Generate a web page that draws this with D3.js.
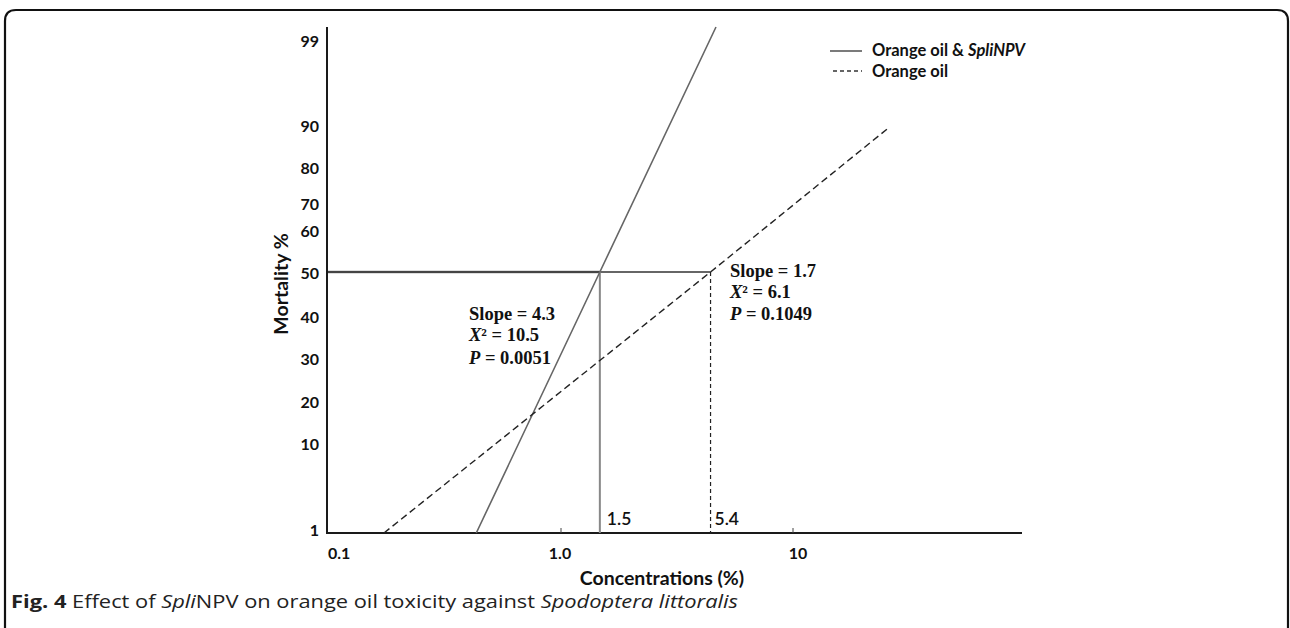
<!DOCTYPE html>
<html>
<head>
<meta charset="utf-8">
<script src="https://cdn.jsdelivr.net/npm/d3@7"></script>
<style>
  html,body{margin:0;padding:0;background:#fff;}
  svg{display:block;}
</style>
</head>
<body>
<svg id="chart" width="1290" height="628"></svg>
<script>
// ---- data ----
const yTickValues = [1, 10, 20, 30, 40, 50, 60, 70, 80, 90, 99];
const yTickLabels = ["1", "10", "20", "30", "40", "50", "60", "70", "80", "90", "99"];
// hand-drawn probit-like mortality axis: value -> position anchors
const yScaleValues = [1, 10, 20, 30, 40, 50, 60, 70, 80, 90, 99, 99.9];
const xTickValues = [0.1, 1, 10];
const xTickLabels = ["0.1", "1.0", "10"];
const seriesNames = ["Orange oil & SpliNPV", "Orange oil"];
// regression lines: concentration (%) and mortality (%)
const mixConc = [0.44, 1.5, 4.75];
const mixMort = [1, 50, 99.9];
const oilConc = [0.176, 4.5, 25.9];
const oilMort = [1, 50, 89];
const lc50Conc = [1.5, 4.5];
const lc50Labels = ["1.5", "5.4"];
const slopes = ["4.3", "1.7"];
const chiSq = ["10.5", "6.1"];
const pVals = ["0.0051", "0.1049"];

// ---- layout ----
const svg = d3.select("#chart");
const x = d3.scaleLog().domain([0.1, 100]).range([327, 1023]);
const y = d3.scaleLinear().domain(yScaleValues)
  .range([533, 443, 401, 358, 316, 272, 230, 203, 167, 125, 40, 27]);
const sans = "Lato, 'Open Sans', sans-serif";

// frame
svg.append("path")
  .attr("d", "M5,640 L5,21 Q5,10 16,10 L1277,10 Q1288,10 1288,21 L1288,640")
  .attr("fill", "none").attr("stroke", "#111").attr("stroke-width", 2.2);

// axes lines
svg.append("line").attr("x1", x(0.1)).attr("x2", x(0.1)).attr("y1", y(99.9)).attr("y2", y(1))
  .attr("stroke", "#1a1a1a").attr("stroke-width", 2);
svg.append("line").attr("x1", x(0.1) - 1).attr("x2", 1022).attr("y1", y(1)).attr("y2", y(1))
  .attr("stroke", "#1a1a1a").attr("stroke-width", 2);

// y tick labels
svg.append("g").selectAll("text").data(yTickValues).join("text")
  .attr("x", 319).attr("y", d => y(d) - (d === 1 ? 4 : 0))
  .attr("text-anchor", "end").attr("dominant-baseline", "central")
  .attr("font-family", sans).attr("font-weight", "bold")
  .attr("font-size", 16).attr("fill", "#111")
  .text((d, i) => yTickLabels[i]);

// x ticks
svg.append("g").selectAll("line").data(xTickValues.slice(1)).join("line")
  .attr("x1", d => x(d) + 2).attr("x2", d => x(d) + 2).attr("y1", y(1) - 5).attr("y2", y(1))
  .attr("stroke", "#444").attr("stroke-width", 1);
svg.append("g").selectAll("text").data(xTickValues).join("text")
  .attr("x", (d, i) => i === 0 ? x(d) + 1 : x(d) + (i === 2 ? 7 : 1))
  .attr("y", 552)
  .attr("text-anchor", (d, i) => i === 0 ? "start" : "middle")
  .attr("dominant-baseline", "central")
  .attr("font-family", sans).attr("font-weight", "bold")
  .attr("font-size", 16).attr("fill", "#111")
  .text((d, i) => xTickLabels[i]);

// axis titles
svg.append("text").attr("x", 662).attr("y", 577)
  .attr("text-anchor", "middle").attr("dominant-baseline", "central")
  .attr("font-family", sans).attr("font-weight", "bold")
  .attr("font-size", 19.5).attr("fill", "#111").text("Concentrations (%)");
svg.append("text").attr("transform", "translate(280,284) rotate(-90)")
  .attr("text-anchor", "middle").attr("dominant-baseline", "central")
  .attr("font-family", sans).attr("font-weight", "bold")
  .attr("font-size", 19.5).attr("fill", "#111").text("Mortality %");

// LC50 reference lines
svg.append("line").attr("x1", x(0.1) + 1).attr("x2", x(lc50Conc[0])).attr("y1", y(50)).attr("y2", y(50))
  .attr("stroke", "#777").attr("stroke-width", 2.6);
svg.append("line").attr("x1", x(0.1) + 1).attr("x2", x(lc50Conc[1])).attr("y1", y(50)).attr("y2", y(50))
  .attr("stroke", "#333").attr("stroke-width", 1.3);
svg.append("line").attr("x1", x(lc50Conc[0])).attr("x2", x(lc50Conc[0])).attr("y1", y(50)).attr("y2", y(1))
  .attr("stroke", "#888").attr("stroke-width", 2);
svg.append("line").attr("x1", x(lc50Conc[1])).attr("x2", x(lc50Conc[1])).attr("y1", y(50)).attr("y2", y(1) + 1)
  .attr("stroke", "#222").attr("stroke-width", 1.2).attr("stroke-dasharray", "4,3");

// regression lines
const line = d3.line().x(d => x(d[0])).y(d => y(d[1]));
svg.append("path").datum(mixConc.map((c, i) => [c, mixMort[i]]))
  .attr("d", line).attr("fill", "none").attr("stroke", "#666").attr("stroke-width", 1.6);
svg.append("path").datum(oilConc.map((c, i) => [c, oilMort[i]]))
  .attr("d", line).attr("fill", "none").attr("stroke", "#222").attr("stroke-width", 1.4)
  .attr("stroke-dasharray", "7,4");

// LC50 labels
svg.append("g").selectAll("text").data(lc50Conc).join("text")
  .attr("x", (d, i) => x(d) + (i === 0 ? 7 : 4)).attr("y", 518)
  .attr("dominant-baseline", "central")
  .attr("font-family", sans).attr("font-weight", 600)
  .attr("font-size", 17.5).attr("fill", "#111")
  .text((d, i) => lc50Labels[i]);

// statistics annotations
const annPos = [{x: 469, y: [320, 341, 364]}, {x: 730, y: [277, 298, 320]}];
annPos.forEach((p, i) => {
  const g = svg.append("g").attr("font-family", "'Liberation Serif', 'DejaVu Serif', serif")
    .attr("font-weight", "bold").attr("font-size", 18.5).attr("fill", "#111");
  g.append("text").attr("x", p.x).attr("y", p.y[0]).text("Slope = " + slopes[i]);
  const t2 = g.append("text").attr("x", p.x).attr("y", p.y[1]);
  t2.append("tspan").attr("font-style", "italic").text("X");
  t2.append("tspan").text("\u00B2 = " + chiSq[i]);
  const t3 = g.append("text").attr("x", p.x).attr("y", p.y[2]);
  t3.append("tspan").attr("font-style", "italic").text("P");
  t3.append("tspan").text(" = " + pVals[i]);
});

// legend
const legend = svg.append("g");
legend.append("line").attr("x1", 830).attr("x2", 862).attr("y1", 51).attr("y2", 51)
  .attr("stroke", "#333").attr("stroke-width", 1.3);
legend.append("line").attr("x1", 833).attr("x2", 862).attr("y1", 71).attr("y2", 71)
  .attr("stroke", "#333").attr("stroke-width", 1.3).attr("stroke-dasharray", "4,3");
const lt1 = legend.append("text").attr("x", 872).attr("y", 50).attr("dominant-baseline", "central")
  .attr("font-family", sans).attr("font-weight", "bold")
  .attr("font-size", 16.5).attr("fill", "#111");
lt1.append("tspan").text("Orange oil & ");
lt1.append("tspan").attr("font-style", "italic").text("SpliNPV");
legend.append("text").attr("x", 872).attr("y", 71).attr("dominant-baseline", "central")
  .attr("font-family", sans).attr("font-weight", "bold")
  .attr("font-size", 16.5).attr("fill", "#111").text(seriesNames[1]);

// caption
const cap = svg.append("text").attr("x", 11).attr("y", 608)
  .attr("font-family", "'Open Sans', sans-serif").attr("font-size", 18.5).attr("fill", "#222");
cap.append("tspan").attr("font-weight", "bold").text("Fig. 4");
cap.append("tspan").text(" Effect of ");
cap.append("tspan").attr("font-style", "italic").text("Spli");
cap.append("tspan").text("NPV on orange oil toxicity against ");
cap.append("tspan").attr("font-style", "italic").text("Spodoptera littoralis");
const w = cap.node().getComputedTextLength();
if (w > 0) cap.attr("textLength", 727).attr("lengthAdjust", "spacingAndGlyphs");
</script>
</body>
</html>
